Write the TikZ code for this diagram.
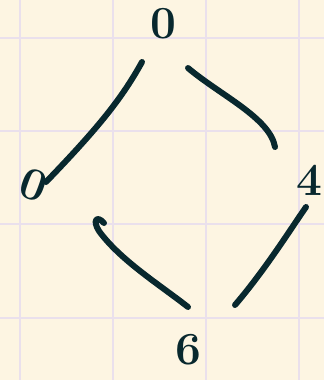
\documentclass[tikz,border=0pt]{standalone}
\definecolor{paper}{RGB}{253,245,226}
\definecolor{gridc}{RGB}{234,224,236}
\definecolor{ink}{RGB}{8,40,46}
\begin{document}
\begin{tikzpicture}[x=1pt,y=-1pt,
  inkline/.style={draw=ink,line width=6pt,line cap=round,line join=round},
  lab/.style={text=ink,inner sep=0pt,font=\fontsize{46}{46}\selectfont\bfseries},
  gridline/.style={draw=gridc,line width=2pt}]
\fill[paper] (0,0) rectangle (324,380);
\useasboundingbox (0,0) rectangle (324,380);
\foreach \x in {20,113,206,299} \draw[gridline] (\x,0) -- (\x,380);
\foreach \y in {38,131,224,318} \draw[gridline] (0,\y) -- (324,\y);
\node[lab] (top) at (163,24) {0};
\node[lab,rotate=-20] (left) at (34,185) {0};
\node[lab,anchor=east] (right) at (323,180) {4};
\node[lab] (bottom) at (188,350) {6};
\coordinate (a1) at (142,62);
\coordinate (a2) at (46,182);
\coordinate (b1) at (188,68);
\coordinate (b2) at (275,147);
\coordinate (c1) at (104,223);
\coordinate (c2) at (188,307);
\coordinate (d1) at (306,207);
\coordinate (d2) at (235,305);
\draw[inkline] (a1) .. controls (122,98) and (100,126) .. (a2);
\draw[inkline] (b1) .. controls (220,95) and (270,118) .. (b2);
\draw[inkline] (c1) .. controls (97,215) and (92,220) .. (99,231) .. controls (120,260) and (160,285) .. (c2);
\draw[inkline] (d1) .. controls (290,230) and (265,270) .. (d2);
\end{tikzpicture}
\end{document}
